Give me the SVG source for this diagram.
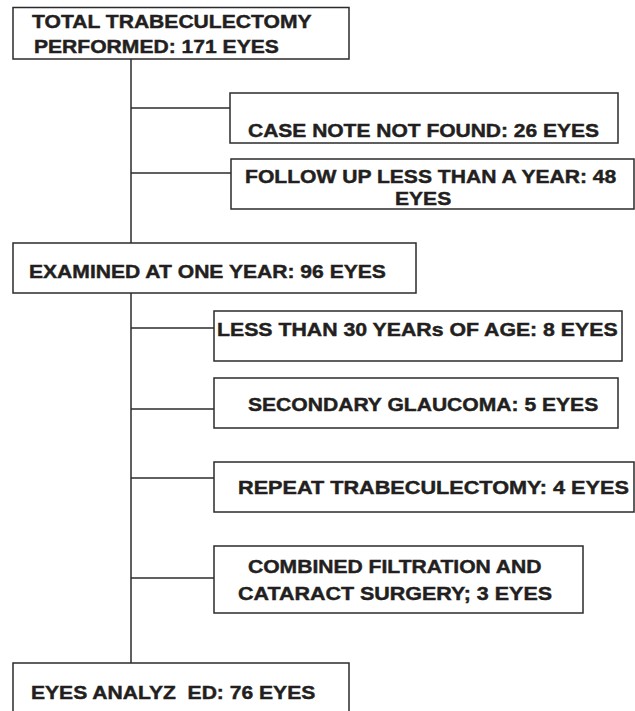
<svg xmlns="http://www.w3.org/2000/svg" width="635" height="711" viewBox="0 0 635 711">
<style>
rect.box{fill:#fff;stroke:#2b2b2b;stroke-width:1.5}
.conn line{stroke:#2b2b2b;stroke-width:1.5}
text{font-family:"Liberation Sans",Arial,sans-serif;font-weight:bold;font-size:19px;fill:#231f20;stroke:#231f20;stroke-width:0.45;white-space:pre}
</style>
<rect width="635" height="711" fill="#fff"/>
<g id="connectors" class="conn">
<line x1="131" y1="59" x2="131" y2="243"/>
<line x1="131" y1="108" x2="230" y2="108"/>
<line x1="131" y1="173" x2="231" y2="173"/>
<line x1="131" y1="293" x2="131" y2="663"/>
<line x1="131" y1="328" x2="214" y2="328"/>
<line x1="131" y1="409" x2="214" y2="409"/>
<line x1="131" y1="478" x2="214" y2="478"/>
<line x1="131" y1="578" x2="214" y2="578"/>
</g>
<g id="total">
<rect class="box" x="13" y="7.5" width="336" height="51.5"/>
<text transform="translate(32,28) scale(1.11,1)">TOTAL TRABECULECTOMY</text>
<text transform="translate(34,53) scale(1.11,1)">PERFORMED: 171 EYES</text>
</g>
<g id="casenote">
<rect class="box" x="230" y="93" width="388" height="50"/>
<text transform="translate(248,137) scale(1.105,1)">CASE NOTE NOT FOUND: 26 EYES</text>
</g>
<g id="followup">
<rect class="box" x="231" y="159" width="403" height="50"/>
<text transform="translate(245,183) scale(1.11,1)">FOLLOW UP LESS THAN A YEAR: 48</text>
<text transform="translate(395,205) scale(1.11,1)">EYES</text>
</g>
<g id="examined">
<rect class="box" x="13" y="243" width="403" height="50"/>
<text transform="translate(29,278) scale(1.11,1)">EXAMINED AT ONE YEAR: 96 EYES</text>
</g>
<g id="lessthan30">
<rect class="box" x="214" y="311" width="408" height="50"/>
<text transform="translate(217,336) scale(1.12,1)">LESS THAN 30 YEARs OF AGE: 8 EYES</text>
</g>
<g id="secondary">
<rect class="box" x="214" y="378" width="404" height="50"/>
<text transform="translate(248,411) scale(1.11,1)">SECONDARY GLAUCOMA: 5 EYES</text>
</g>
<g id="repeat">
<rect class="box" x="214" y="462" width="420" height="50"/>
<text transform="translate(238,494) scale(1.14,1)">REPEAT TRABECULECTOMY: 4 EYES</text>
</g>
<g id="combined">
<rect class="box" x="214" y="546" width="369" height="67"/>
<text transform="translate(248,573) scale(1.11,1)">COMBINED FILTRATION AND</text>
<text transform="translate(238,600) scale(1.13,1)">CATARACT SURGERY; 3 EYES</text>
</g>
<g id="analyzed">
<rect class="box" x="13" y="663" width="336" height="60"/>
<text transform="translate(31,699) scale(1.11,1)">EYES ANALYZ  ED: 76 EYES</text>
</g>
</svg>
